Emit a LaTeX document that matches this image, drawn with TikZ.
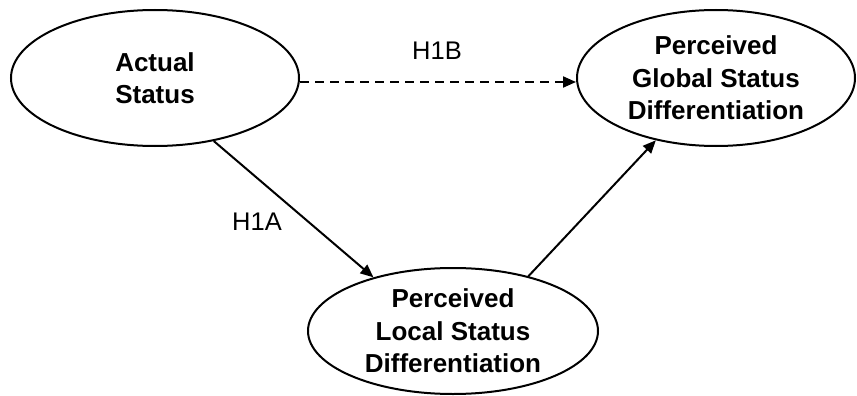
\documentclass[tikz,border=0pt]{standalone}
\usepackage{fontspec}
\setmainfont{Liberation Sans}
\usetikzlibrary{arrows.meta,shapes.geometric}
\begin{document}
\begin{tikzpicture}[x=1pt,y=-1pt,
  oval/.style={ellipse, draw, line width=2pt, inner sep=0pt, align=center,
    font=\fontsize{26}{32.5}\selectfont\bfseries},
  link/.style={line width=2pt, -{Triangle[length=13pt,width=11pt]}},
  lbl/.style={font=\fontsize{25.5}{28}\selectfont, inner sep=0pt}]
\useasboundingbox (0,0) rectangle (857,396);
\node[oval, minimum width=288pt, minimum height=136pt] (actual) at (155,78) {Actual\\Status};
\node[oval, minimum width=278pt, minimum height=136pt] (global) at (716,78) {Perceived\\Global Status\\Differentiation};
\node[oval, minimum width=290pt, minimum height=126pt] (local) at (453,331) {Perceived\\Local Status\\Differentiation};
\draw[link, dash pattern=on 9pt off 6pt] ([yshift=-4pt]actual.east) -- ([yshift=-4pt]global.west);
\draw[link] (actual.-47) -- (local.146);
\draw[link] (local.36) -- (global.-134);
\node[lbl] (h1b) at (437,51) {H1B};
\node[lbl] (h1a) at (257,222) {H1A};
\end{tikzpicture}
\end{document}
